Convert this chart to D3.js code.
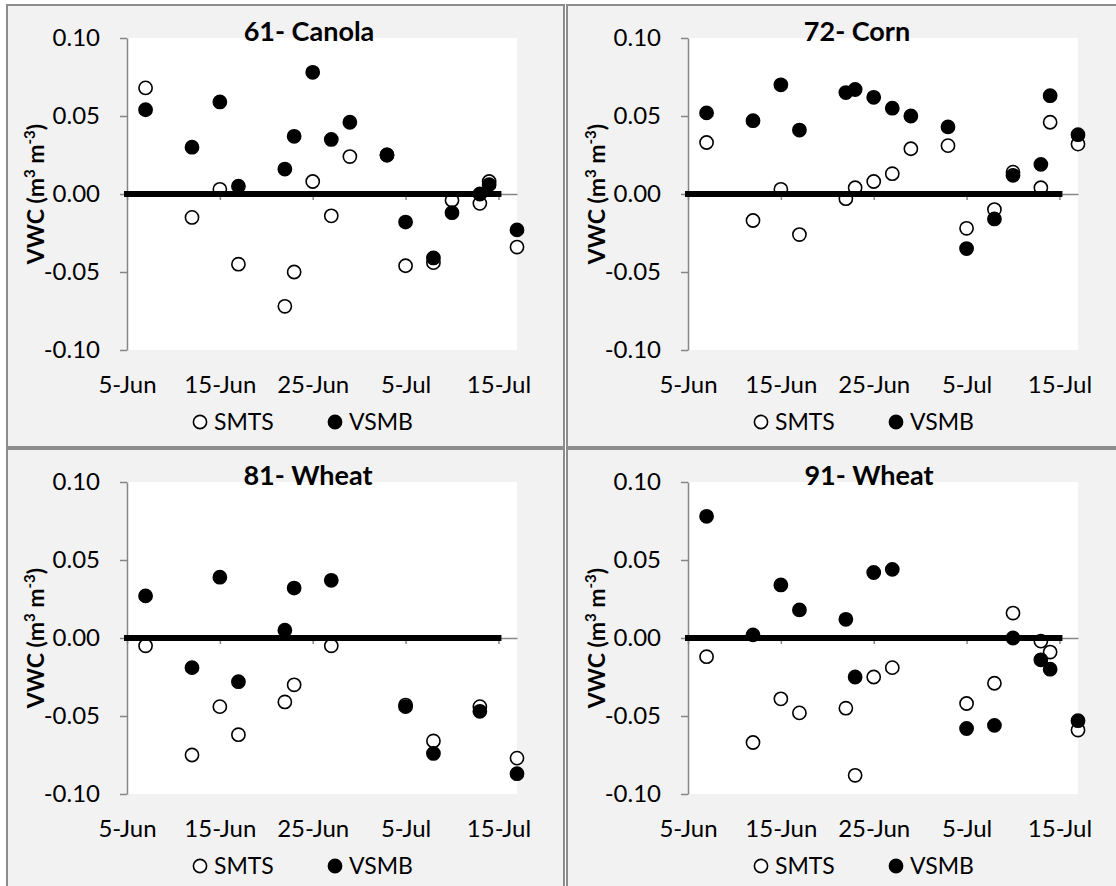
<!DOCTYPE html>
<html>
<head>
<meta charset="utf-8">
<script src="https://cdn.jsdelivr.net/npm/d3@7"></script>
<style>
  body { margin: 0; background: #ffffff; }
  svg { display: block; }
  text { font-family: Lato, "Open Sans", sans-serif; fill: #000; }
</style>
</head>
<body>
<svg id="chart" width="1116" height="886"></svg>
<script>
// ---- data (VWC difference, m3 m-3) ----
const xDomain = ["5-Jun", "17-Jul"];
const tickLabels = ["5-Jun", "15-Jun", "25-Jun", "5-Jul", "15-Jul"];
const yTicks = [-0.10, -0.05, 0.00, 0.05, 0.10];
const titles = ["61- Canola", "72- Corn", "81- Wheat", "91- Wheat"];
const seriesNames = ["SMTS", "VSMB"];
const zeroLineDates = ["5-Jun", "15-Jul"];

const dates61 = ["7-Jun","12-Jun","15-Jun","17-Jun","22-Jun","23-Jun","25-Jun","27-Jun","29-Jun","3-Jul","5-Jul","8-Jul","10-Jul","13-Jul","14-Jul","17-Jul"];
const smts61  = [0.068, -0.015, 0.003, -0.045, -0.072, -0.050, 0.008, -0.014, 0.024, 0.025, -0.046, -0.044, -0.004, -0.006, 0.008, -0.034];
const vsmb61  = [0.054, 0.030, 0.059, 0.005, 0.016, 0.037, 0.078, 0.035, 0.046, 0.025, -0.018, -0.041, -0.012, 0.000, 0.006, -0.023];

const dates72 = ["7-Jun","12-Jun","15-Jun","17-Jun","22-Jun","23-Jun","25-Jun","27-Jun","29-Jun","3-Jul","5-Jul","8-Jul","10-Jul","13-Jul","14-Jul","17-Jul"];
const smts72  = [0.033, -0.017, 0.003, -0.026, -0.003, 0.004, 0.008, 0.013, 0.029, 0.031, -0.022, -0.010, 0.014, 0.004, 0.046, 0.032];
const vsmb72  = [0.052, 0.047, 0.070, 0.041, 0.065, 0.067, 0.062, 0.055, 0.050, 0.043, -0.035, -0.016, 0.012, 0.019, 0.063, 0.038];

const dates81 = ["7-Jun","12-Jun","15-Jun","17-Jun","22-Jun","23-Jun","27-Jun","5-Jul","8-Jul","13-Jul","17-Jul"];
const smts81  = [-0.005, -0.075, -0.044, -0.062, -0.041, -0.030, -0.005, -0.043, -0.066, -0.044, -0.077];
const vsmb81  = [0.027, -0.019, 0.039, -0.028, 0.005, 0.032, 0.037, -0.044, -0.074, -0.047, -0.087];

const dates91 = ["7-Jun","12-Jun","15-Jun","17-Jun","22-Jun","23-Jun","25-Jun","27-Jun","5-Jul","8-Jul","10-Jul","13-Jul","14-Jul","17-Jul"];
const smts91  = [-0.012, -0.067, -0.039, -0.048, -0.045, -0.088, -0.025, -0.019, -0.042, -0.029, 0.016, -0.002, -0.009, -0.059];
const vsmb91  = [0.078, 0.002, 0.034, 0.018, 0.012, -0.025, 0.042, 0.044, -0.058, -0.056, 0.000, -0.014, -0.020, -0.053];

const panelDates = [dates61, dates72, dates81, dates91];
const panelSmts  = [smts61, smts72, smts81, smts91];
const panelVsmb  = [vsmb61, vsmb72, vsmb81, vsmb91];

// ---- layout ----
const boxX = [7, 567], boxY = [5, 449];
const plotLeft = [127, 688], plotTop = [38, 482];
const plotW = 390, plotH = 312;
const titleX = [309, 857, 308, 869];
const markerR = 6.6;

const parseDay = d3.timeParse("%Y %d-%b");
const day = s => parseDay("2013 " + s);

const svg = d3.select("#chart");

titles.forEach((title, i) => {
  const col = i % 2, row = Math.floor(i / 2);
  const L = plotLeft[col], T = plotTop[row];
  const g = svg.append("g");

  // chart frame
  g.append("rect")
    .attr("x", boxX[col]).attr("y", boxY[row])
    .attr("width", col === 0 ? 557 : 600)
    .attr("height", row === 0 ? 442 : 500)
    .attr("fill", "#f2f2f2")
    .attr("stroke", "#8c8c8c").attr("stroke-width", 2);

  // plot area
  g.append("rect")
    .attr("x", L).attr("y", T).attr("width", plotW).attr("height", plotH)
    .attr("fill", "#ffffff");

  const x = d3.scaleTime().domain(xDomain.map(day)).range([L, L + plotW]);
  const y = d3.scaleLinear().domain([-0.1, 0.1]).range([T + plotH, T]);

  // y axis
  const ya = g.append("g").attr("transform", `translate(${L},0)`)
    .call(d3.axisLeft(y).tickValues(yTicks).tickSize(7).tickSizeOuter(0)
      .tickPadding(20).tickFormat(d => d.toFixed(2)));
  ya.selectAll("path, line").attr("stroke", "#868686").attr("stroke-width", 1.5);
  ya.selectAll("text").attr("font-size", 24).attr("font-family", "Lato, sans-serif").attr("fill", "#000");

  // x axis crossing at zero
  const xa = g.append("g").attr("transform", `translate(0,${y(0)})`)
    .call(d3.axisBottom(x).tickValues(tickLabels.map(day)).tickSize(6).tickSizeOuter(0).tickFormat(""));
  xa.selectAll("path, line").attr("stroke", "#868686").attr("stroke-width", 1.5);

  // x tick labels at the bottom of the plot
  const xl = g.append("g").attr("transform", `translate(0,${T + plotH})`)
    .call(d3.axisBottom(x).tickValues(tickLabels.map(day)).tickSize(0)
      .tickFormat(d3.timeFormat("%-d-%b")));
  xl.select(".domain").remove();
  xl.selectAll("text").attr("y", 43).attr("dy", null)
    .attr("font-size", 24).attr("font-family", "Lato, sans-serif").attr("fill", "#000");

  // points
  const dts = panelDates[i];
  const smts = dts.map((d, k) => ({ date: day(d), v: panelSmts[i][k] }));
  const vsmb = dts.map((d, k) => ({ date: day(d), v: panelVsmb[i][k] }));

  g.append("g").selectAll("circle").data(smts).join("circle")
    .attr("cx", d => x(d.date)).attr("cy", d => y(d.v)).attr("r", markerR)
    .attr("fill", "#ffffff").attr("stroke", "#000").attr("stroke-width", 1.6);

  g.append("g").selectAll("circle").data(vsmb).join("circle")
    .attr("cx", d => x(d.date)).attr("cy", d => y(d.v)).attr("r", markerR)
    .attr("fill", "#000").attr("stroke", "#000").attr("stroke-width", 1.6);

  // zero reference line
  g.append("path")
    .datum(zeroLineDates.map(d => ({ date: day(d), v: 0 })))
    .attr("d", d3.line().x(d => x(d.date)).y(d => y(d.v)))
    .attr("stroke", "#000").attr("stroke-width", 6).attr("stroke-linecap", "square")
    .attr("fill", "none");

  // title
  g.append("text").attr("x", titleX[i]).attr("y", boxY[row] + 36)
    .attr("text-anchor", "middle").attr("font-weight", "bold").attr("font-size", 27)
    .text(title);

  // y axis title
  const yt = g.append("text")
    .attr("transform", `translate(${L - 91},${T + plotH / 2}) rotate(-90)`)
    .attr("text-anchor", "middle").attr("dy", "0.35em")
    .attr("font-weight", "bold").attr("font-size", 23);
  yt.append("tspan").text("VWC (m");
  yt.append("tspan").attr("baseline-shift", "super").attr("font-size", 15).text("3");
  yt.append("tspan").text(" m");
  yt.append("tspan").attr("baseline-shift", "super").attr("font-size", 15).text("-3");
  yt.append("tspan").text(")");

  // legend
  const legY = T + plotH + 72;
  const legX = [L + 73, L + 208];
  seriesNames.forEach((name, k) => {
    g.append("circle").attr("cx", legX[k]).attr("cy", legY).attr("r", markerR)
      .attr("fill", k === 0 ? "#ffffff" : "#000").attr("stroke", "#000").attr("stroke-width", 1.6);
    g.append("text").attr("x", legX[k] + 14).attr("y", legY).attr("dy", "0.36em")
      .attr("font-size", 23).text(name);
  });
});
</script>
</body>
</html>
